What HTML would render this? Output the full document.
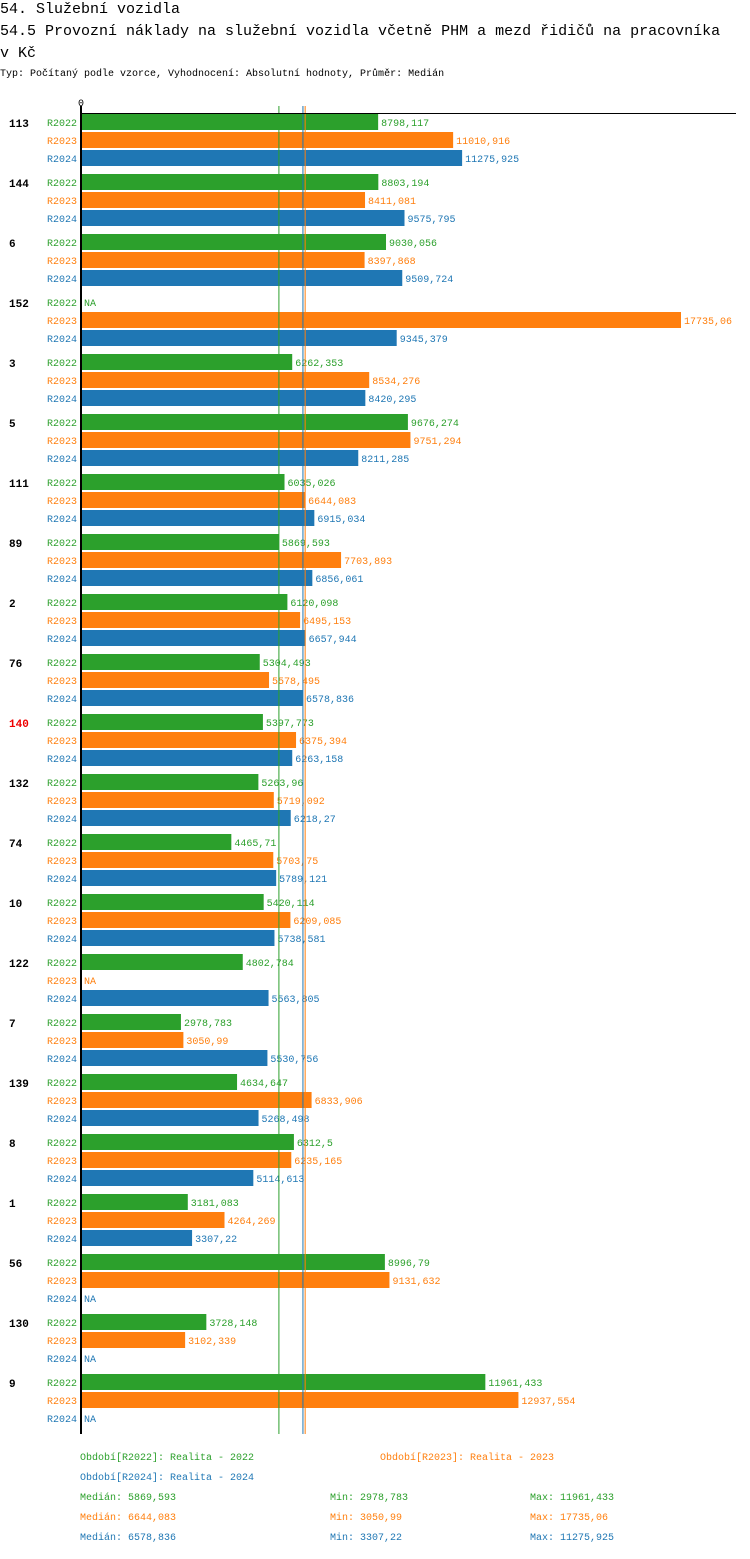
<!DOCTYPE html>
<html><head><meta charset="utf-8"><style>
body{margin:0;background:#fff;width:750px;height:1554px;overflow:hidden;font-family:"Liberation Mono",monospace}
svg text{font-family:"Liberation Mono",monospace}
</style></head><body>
<svg id="c" width="750" height="1554" xmlns="http://www.w3.org/2000/svg">
<text x="0" y="13" font-size="15">54. Služební vozidla</text>
<text x="0" y="35" font-size="15">54.5 Provozní náklady na služební vozidla včetně PHM a mezd řidičů na pracovníka</text>
<text x="0" y="57" font-size="15">v Kč</text>
<text x="0" y="76" font-size="10">Typ: Počítaný podle vzorce, Vyhodnocení: Absolutní hodnoty, Průměr: Medián</text>
<text x="78" y="106" font-size="10">0</text>
<g id="marks"></g>
</svg>
<script>
const categories=["113","144","6","152","3","5","111","89","2","76","140","132","74","10","122","7","139","8","1","56","130","9"];
const r2022=[8798.117,8803.194,9030.056,null,6262.353,9676.274,6035.026,5869.593,6120.098,5304.493,5397.773,5263.96,4465.71,5420.114,4802.784,2978.783,4634.647,6312.5,3181.083,8996.79,3728.148,11961.433];
const r2023=[11010.916,8411.081,8397.868,17735.06,8534.276,9751.294,6644.083,7703.893,6495.153,5578.495,6375.394,5719.092,5703.75,6209.085,null,3050.99,6833.906,6235.165,4264.269,9131.632,3102.339,12937.554];
const r2024=[11275.925,9575.795,9509.724,9345.379,8420.295,8211.285,6915.034,6856.061,6657.944,6578.836,6263.158,6218.27,5789.121,5738.581,5563.805,5530.756,5268.498,5114.613,3307.22,null,null,null];
const medians=[5869.593,6644.083,6578.836];
const mins=[2978.783,3050.99,3307.22];
const maxs=[11961.433,17735.06,11275.925];
const seriesNames=["R2022","R2023","R2024"];
const colors=["#2ca02c","#ff7f0e","#1f77b4"];
const series=[r2022,r2023,r2024];
const X=v=>80+v*(601/17735.06);
const fmt=v=>String(v).replace('.',',');
const NS="http://www.w3.org/2000/svg";
const g=document.getElementById('marks');
function el(t,a,txt){const e=document.createElementNS(NS,t);for(const k in a)e.setAttribute(k,a[k]);if(txt!=null)e.textContent=txt;g.appendChild(e);return e;}
categories.forEach((c,i)=>{
  const y0=114+i*60;
  const t=el('text',{x:9,y:y0+13,'font-size':11,'font-weight':'bold',fill:c==="140"?"#e00":"#000"},c);
  
  
  series.forEach((s,j)=>{
    const y=y0+j*18;
    const l=el('text',{x:47,y:y+12,'font-size':10,fill:colors[j]},seriesNames[j]);
    
    
    const v=s[i];
    if(v==null){
      const n=el('text',{x:84,y:y+12,'font-size':10,fill:colors[j]},'NA');
      
      
    }else{
      const r=el('rect',{x:81,y:y,width:X(v)-81,height:16,fill:colors[j]});
      
      
      const vl=el('text',{x:X(v)+3,y:y+12,'font-size':10,fill:colors[j]},fmt(v));
      
      
    }
  });
});
const yEnd=114+categories.length*60;
medians.forEach((m,j)=>{
  const ln=el('line',{x1:X(m),x2:X(m),y1:106,y2:yEnd,stroke:colors[j],'stroke-width':1});
  
  
});
const ax=el('line',{x1:81,x2:81,y1:106,y2:yEnd,stroke:'#000','stroke-width':2});


const tx=el('line',{x1:80,x2:736,y1:113.5,y2:113.5,stroke:'#000','stroke-width':1});


const legPos=[[80,1460],[380,1460],[80,1480]];
seriesNames.forEach((n,j)=>{
  const t=el('text',{x:legPos[j][0],y:legPos[j][1],'font-size':10,fill:colors[j]},'Období['+n+']: Realita - '+n.slice(1));
  
  
  const y=1500+j*20;
  const a=el('text',{x:80,y:y,'font-size':10,fill:colors[j]},'Medián: '+fmt(medians[j]));
  
  
  const b=el('text',{x:330,y:y,'font-size':10,fill:colors[j]},'Min: '+fmt(mins[j]));
  
  
  const c=el('text',{x:530,y:y,'font-size':10,fill:colors[j]},'Max: '+fmt(maxs[j]));
  
  
});
</script>
</body></html>
